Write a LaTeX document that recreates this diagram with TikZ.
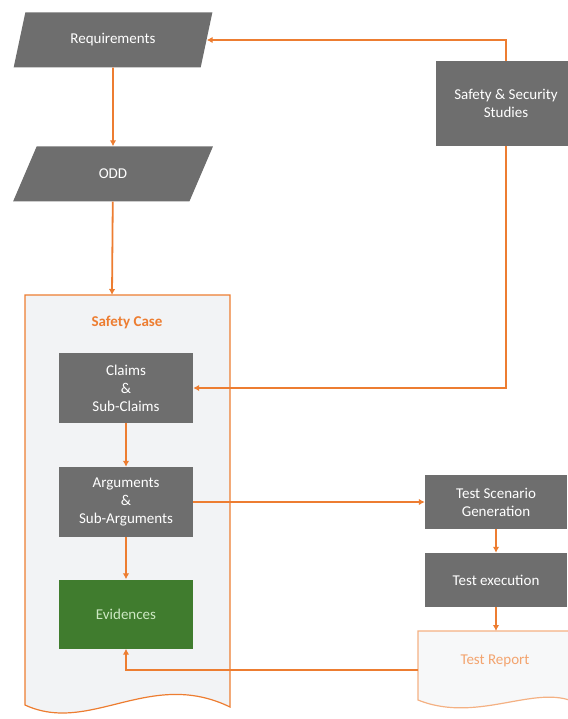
\documentclass[tikz,border=0pt]{standalone}
\usepackage{fontspec}
\setmainfont{Carlito}
\usepackage{xcolor}
\usetikzlibrary{arrows.meta,shapes.geometric,calc}
\definecolor{flow}{RGB}{237,125,49}
\definecolor{boxgray}{RGB}{110,110,110}
\definecolor{evgreen}{RGB}{64,124,46}
\definecolor{casefill}{RGB}{242,243,245}

\begin{document}
\begin{tikzpicture}[x=1pt, y=-1pt, font=\fontsize{15}{18}\selectfont, >={Latex[length=6pt,width=6.5pt]},
  grybox/.style={fill=boxgray, text=white, align=center, inner sep=0pt},
  para/.style={grybox, trapezium, trapezium left angle=66, trapezium right angle=114, trapezium stretches=true, minimum width=200pt, minimum height=55pt},
  link/.style={draw=flow, line width=1.8pt, ->}]
\useasboundingbox (0,0) rectangle (567,719);
% document shapes (container and report)
\draw[flow, line width=1.2pt, fill=casefill] (25,295) coordinate (casetop-l) -- (230,295) -- (230,707) .. controls (150,668) and (90,735) .. (25,705) -- cycle;
\coordinate (casetop) at (112,295);
\node[text=flow, font=\fontsize{15}{18}\selectfont\bfseries] (case) at (127,322) {Safety Case};
\draw[flow!60, line width=1.2pt, fill=casefill!60] (418,631) -- (580,631) -- (580,705) .. controls (540,680) and (480,725) .. (418,700) -- cycle;
\coordinate (reptop) at (496,631);
\coordinate (repw) at (418,670);
\node[text=flow!70] (report) at (495,661) {Test Report};
% input boxes
\node[para] (req) at (113,40) {Requirements};
\node[para] (odd) at (113,174) {ODD};
\node[grybox, minimum width=140pt, minimum height=85pt] (studies) at (506,103.5) {Safety \& Security\\Studies};
% safety case content
\node[grybox, minimum width=134pt, minimum height=70pt] (claims) at (126,388) {Claims\\\&\\Sub-Claims};
\node[grybox, minimum width=134pt, minimum height=70pt] (args) at (126,502) {Arguments\\\&\\Sub-Arguments};
\node[grybox, fill=evgreen, text={rgb,255:red,205;green,232;blue,195}, minimum width=134pt, minimum height=69pt] (evid) at (126,614) {Evidences};
% testing branch
\node[grybox, minimum width=142pt, minimum height=54pt] (tsg) at (496,502) {Test Scenario\\Generation};
\node[grybox, minimum width=142pt, minimum height=54pt] (te) at (496,580) {Test execution};
% connectors
\draw[link] (req) -- (odd);
\draw[link] (odd) -- (casetop);
\draw[link] (studies.north) |- (req.east);
\draw[link] (studies.south) |- (claims.east);
\draw[link] (claims) -- (args);
\draw[link] (args) -- (evid);
\draw[link] (args.east) -- (tsg.west);
\draw[link] (tsg) -- (te);
\draw[link] (te) -- (reptop);
\draw[link] (repw) -| (evid.south);
\end{tikzpicture}
\end{document}
